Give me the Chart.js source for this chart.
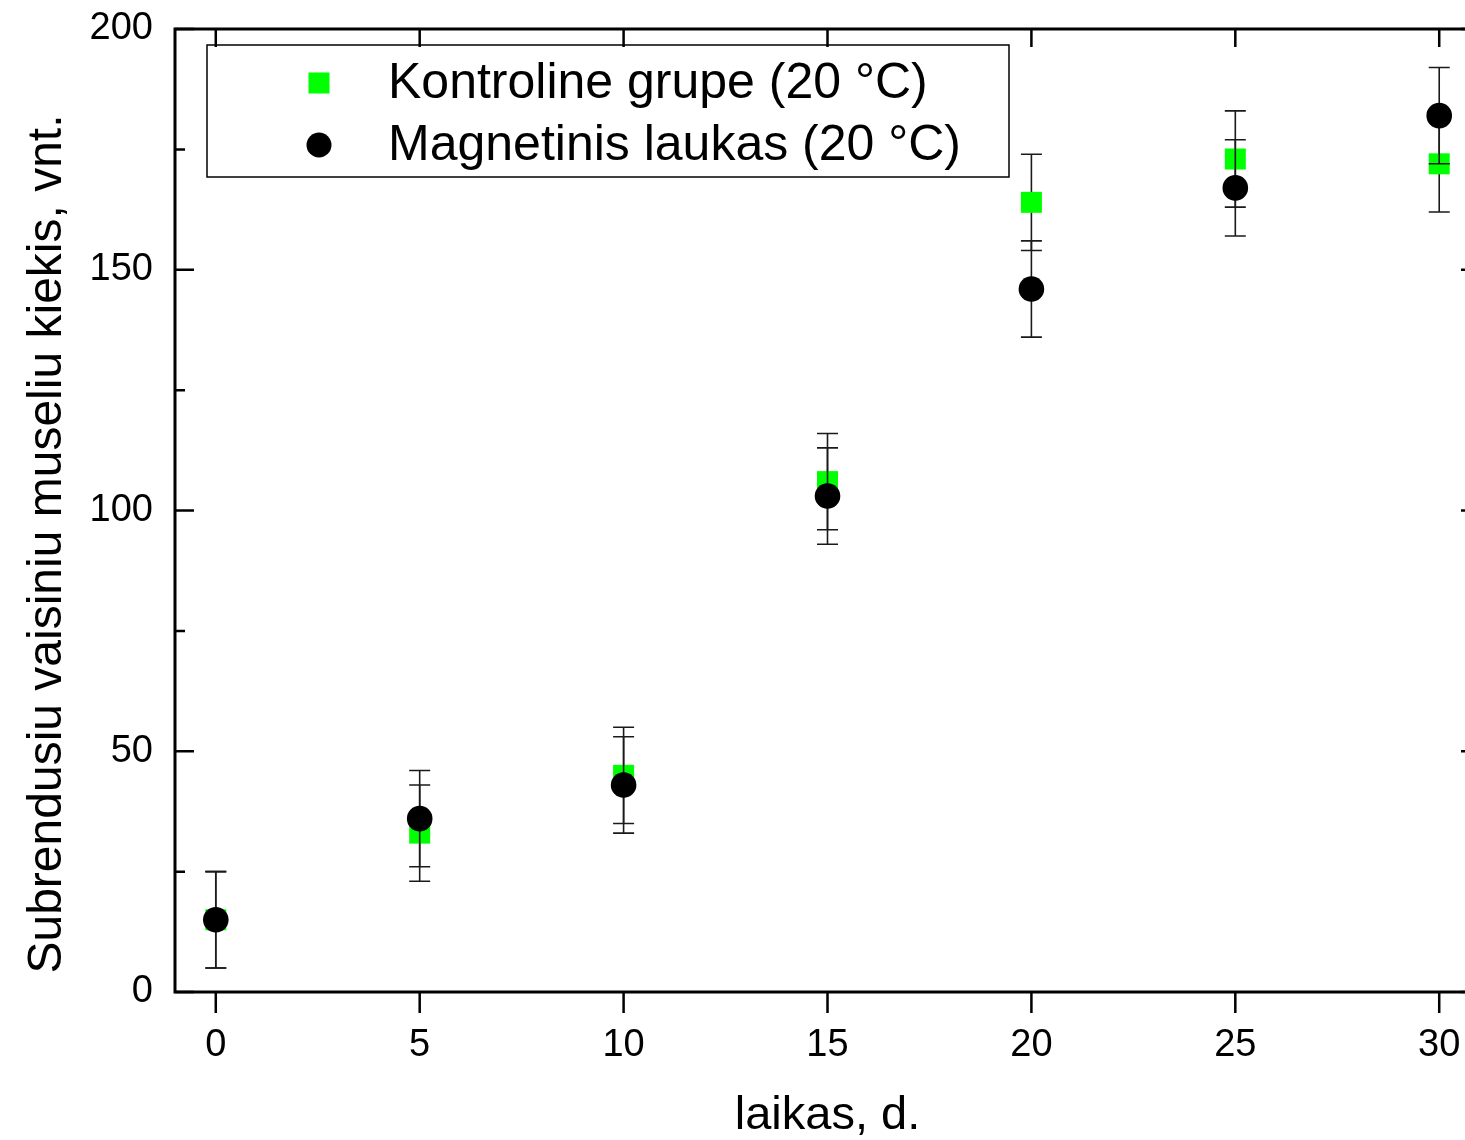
<!DOCTYPE html>
<html>
<head>
<meta charset="utf-8">
<script src="https://cdn.jsdelivr.net/npm/chart.js@4.4.1/dist/chart.umd.min.js"></script>
<style>
  html, body { margin: 0; padding: 0; overflow: hidden; background: #fff; }
  canvas { display: block; }
</style>
</head>
<body>
<canvas id="myChart" width="1500" height="1140"></canvas>
<script>
// Data
const days = [0, 5, 10, 15, 20, 25, 30];
const kontrolValues = [15, 33, 45, 106, 164, 173, 172];
const kontrolErrors = [10, 10, 10, 10, 10, 10, 10];
const magnetValues = [15, 36, 43, 103, 146, 167, 182];
const magnetErrors = [10, 10, 10, 10, 10, 10, 10];
const seriesLabels = ['Kontroline grupe (20 °C)', 'Magnetinis laukas (20 °C)'];

const xTickValues = [0, 5, 10, 15, 20, 25, 30];
const yTickValues = [0, 50, 100, 150, 200];
const yMinorTicks = [25, 75, 125, 175];

const yTitle = 'Subrendusiu vaisiniu museliu kiekis, vnt.';
const xTitle = 'laikas, d.';

const FONT = '"Liberation Sans", Arial, sans-serif';

const toPoints = (vals) => vals.map((v, i) => ({ x: days[i], y: v }));

// Error bars are drawn right before their own dataset so markers sit on top
const errorBars = {
    id: 'errorBars',
    beforeDatasetDraw(chart, args) {
        const ds = chart.data.datasets[args.index];
        const { ctx, scales: { x, y } } = chart;
        ctx.save();
        ctx.strokeStyle = '#1a1a1a';
        ctx.lineWidth = 1.6;
        ctx.beginPath();
        ds.data.forEach((p, i) => {
            const px = x.getPixelForValue(p.x);
            const top = y.getPixelForValue(p.y + ds.errors[i]);
            const bot = y.getPixelForValue(p.y - ds.errors[i]);
            ctx.moveTo(px, top); ctx.lineTo(px, bot);
            ctx.moveTo(px - 10.5, top); ctx.lineTo(px + 10.5, top);
            ctx.moveTo(px - 10.5, bot); ctx.lineTo(px + 10.5, bot);
        });
        ctx.stroke();
        ctx.restore();
    }
};

// Box frame with inward ticks (left, top, right) and outward ticks on the bottom
const frame = {
    id: 'frame',
    beforeDatasetsDraw(chart) {
        const { ctx, chartArea: a, scales: { x, y } } = chart;
        ctx.save();
        ctx.strokeStyle = '#000';
        ctx.lineWidth = 3;
        ctx.strokeRect(a.left, a.top, a.right - a.left, a.bottom - a.top);
        ctx.lineWidth = 2.5;
        ctx.beginPath();
        xTickValues.forEach(v => {
            const px = x.getPixelForValue(v);
            ctx.moveTo(px, a.bottom); ctx.lineTo(px, a.bottom + 21);
            ctx.moveTo(px, a.top); ctx.lineTo(px, a.top + 18);
        });
        yTickValues.forEach(v => {
            const py = y.getPixelForValue(v);
            ctx.moveTo(a.left, py); ctx.lineTo(a.left + 19, py);
            ctx.moveTo(a.right, py); ctx.lineTo(a.right - 19, py);
        });
        yMinorTicks.forEach(v => {
            const py = y.getPixelForValue(v);
            ctx.moveTo(a.left, py); ctx.lineTo(a.left + 10, py);
            ctx.moveTo(a.right, py); ctx.lineTo(a.right - 10, py);
        });
        ctx.stroke();

        // y axis title sits a little below the middle of the plot, like the original
        ctx.fillStyle = '#000';
        ctx.font = '48px ' + FONT;
        ctx.textAlign = 'center';
        ctx.textBaseline = 'alphabetic';
        ctx.translate(61, 544);
        ctx.rotate(-Math.PI / 2);
        ctx.fillText(yTitle, 0, 0);
        ctx.restore();
    }
};

// Boxed legend in the upper left of the plot
const boxLegend = {
    id: 'boxLegend',
    afterDraw(chart) {
        const ctx = chart.ctx;
        const sets = chart.data.datasets;
        ctx.save();
        ctx.strokeStyle = '#000';
        ctx.lineWidth = 1.5;
        ctx.strokeRect(207, 45, 802, 132);
        const rows = [84, 146];
        sets.forEach((ds, i) => {
            const cy = rows[i];
            ctx.fillStyle = ds.backgroundColor;
            if (ds.pointStyle === 'rect') {
                ctx.fillRect(319 - 10.5, cy - 1 - 10.5, 21, 21);
            } else {
                ctx.beginPath();
                ctx.arc(319, cy - 1, 12.5, 0, Math.PI * 2);
                ctx.fill();
            }
            ctx.fillStyle = '#000';
            ctx.font = '50px ' + FONT;
            ctx.textBaseline = 'middle';
            ctx.textAlign = 'left';
            ctx.fillText(ds.label, 388, cy);
        });
        ctx.restore();
    }
};

const ctx = document.getElementById('myChart');
const myChart = new Chart(ctx, {
    type: 'scatter',
    data: {
        datasets: [{
            label: seriesLabels[0],
            data: toPoints(kontrolValues),
            errors: kontrolErrors,
            pointStyle: 'rect',
            pointRadius: 14.85,
            pointBorderWidth: 0,
            backgroundColor: '#00ff00',
            borderColor: '#00ff00',
            order: 2
        }, {
            label: seriesLabels[1],
            data: toPoints(magnetValues),
            errors: magnetErrors,
            pointStyle: 'circle',
            pointRadius: 12.8,
            pointBorderWidth: 0,
            backgroundColor: '#000000',
            borderColor: '#000000',
            order: 1
        }]
    },
    options: {
        responsive: false,
        animation: false,
        devicePixelRatio: 1,
        layout: { padding: { top: 29, right: 20, left: 0, bottom: 0 } },
        plugins: {
            legend: { display: false },
            tooltip: { enabled: false }
        },
        scales: {
            x: {
                type: 'linear',
                min: -1,
                max: 31,
                afterBuildTicks: s => { s.ticks = xTickValues.map(v => ({ value: v })); },
                afterFit: s => { s.height = 148; s.paddingLeft = 0; s.paddingRight = 0; },
                grid: { display: false, drawTicks: false },
                border: { display: false },
                ticks: {
                    color: '#000',
                    font: { family: FONT, size: 38 },
                    padding: 31,
                    maxRotation: 0,
                    autoSkip: false
                },
                title: {
                    display: true,
                    text: xTitle,
                    color: '#000',
                    font: { family: FONT, size: 47, lineHeight: 1 },
                    padding: { top: 0, bottom: 0 }
                }
            },
            y: {
                type: 'linear',
                min: 0,
                max: 200,
                afterBuildTicks: s => { s.ticks = yTickValues.map(v => ({ value: v })); },
                afterFit: s => { s.width = 175; s.paddingTop = 0; s.paddingBottom = 0; },
                grid: { display: false, drawTicks: false },
                border: { display: false },
                ticks: {
                    color: '#000',
                    font: { family: FONT, size: 38 },
                    padding: 22,
                    autoSkip: false
                }
            }
        }
    },
    plugins: [frame, errorBars, boxLegend]
});
</script>
</body>
</html>
